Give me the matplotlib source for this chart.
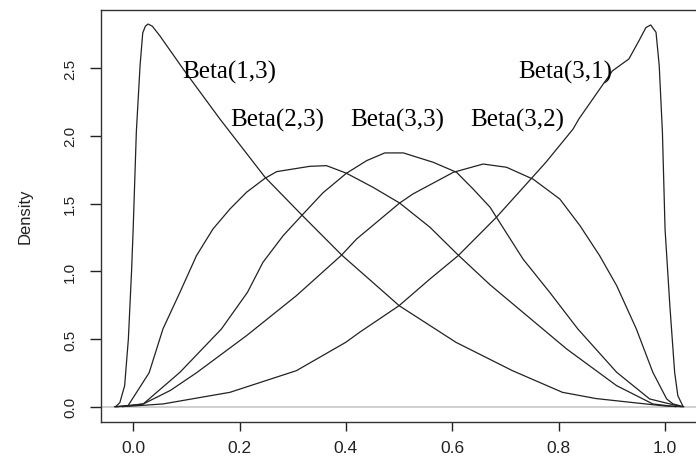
import matplotlib
matplotlib.use("Agg")
import matplotlib.pyplot as plt

# density curves of the five beta samples (x, density)
beta13_x = [-0.033, -0.025, -0.016, -0.009, -0.003, 0.0, 0.006, 0.013, 0.018, 0.023,
            0.028, 0.036, 0.05, 0.094, 0.163, 0.248, 0.317, 0.392, 0.486, 0.5,
            0.607, 0.713, 0.807, 0.87, 0.94, 0.964, 1.0, 1.033]
beta13_y = [0, 0.03, 0.155, 0.5, 1.0, 1.31, 2.03, 2.52, 2.76, 2.81,
            2.826, 2.81, 2.74, 2.494, 2.125, 1.694, 1.416, 1.12, 0.795, 0.746,
            0.475, 0.266, 0.106, 0.06, 0.03, 0.02, 0.005, 0]

beta31_x = [-0.033, 0.0, 0.056, 0.182, 0.307, 0.4, 0.426, 0.5, 0.558, 0.611,
            0.683, 0.749, 0.776, 0.827, 0.838, 0.901, 0.932, 0.951, 0.964, 0.973,
            0.983, 0.989, 0.995, 1.0, 1.009, 1.018, 1.024, 1.034]
beta31_y = [0, 0.005, 0.02, 0.106, 0.266, 0.476, 0.55, 0.746, 0.943, 1.115,
            1.399, 1.687, 1.805, 2.05, 2.125, 2.48, 2.568, 2.703, 2.8, 2.819,
            2.765, 2.52, 2.03, 1.31, 0.746, 0.254, 0.081, 0]

beta23_x = [-0.035, -0.01, 0.03, 0.056, 0.088, 0.119, 0.15, 0.182, 0.213, 0.248,
            0.27, 0.332, 0.3635, 0.401, 0.451, 0.501, 0.558, 0.611, 0.671, 0.75,
            0.815, 0.909, 0.977, 1.02]
beta23_y = [0, 0.005, 0.25, 0.574, 0.845, 1.115, 1.312, 1.46, 1.583, 1.687,
            1.736, 1.775, 1.78, 1.724, 1.62, 1.504, 1.325, 1.12, 0.9, 0.64,
            0.426, 0.155, 0.02, 0]

beta33_x = [-0.03, 0.019, 0.088, 0.166, 0.215, 0.244, 0.282, 0.3165, 0.357, 0.401,
            0.439, 0.473, 0.508, 0.564, 0.608, 0.639, 0.671, 0.733, 0.783, 0.836,
            0.909, 0.971, 1.03]
beta33_y = [0, 0.02, 0.254, 0.574, 0.845, 1.066, 1.263, 1.41, 1.58, 1.724,
            1.817, 1.874, 1.874, 1.805, 1.731, 1.608, 1.473, 1.09, 0.845, 0.574,
            0.254, 0.057, 0]

beta32_x = [-0.02, 0.019, 0.07, 0.119, 0.213, 0.307, 0.392, 0.42, 0.501, 0.526,
            0.602, 0.658, 0.702, 0.752, 0.802, 0.84, 0.877, 0.909, 0.946, 0.977,
            1.003, 1.015, 1.035]
beta32_y = [0, 0.02, 0.12, 0.25, 0.524, 0.82, 1.12, 1.238, 1.504, 1.571,
            1.731, 1.792, 1.768, 1.68, 1.534, 1.337, 1.115, 0.894, 0.574, 0.254,
            0.057, 0.02, 0]

# curve labels and where they sit
etiquetas = ["Beta(1,3)", "Beta(2,3)", "Beta(3,3)", "Beta(3,2)", "Beta(3,1)"]
etiq_x = [0.180, 0.271, 0.497, 0.722, 0.812]
etiq_y = [2.476, 2.119, 2.119, 2.119, 2.476]

xticks = [0.0, 0.2, 0.4, 0.6, 0.8, 1.0]
yticks = [0.0, 0.5, 1.0, 1.5, 2.0, 2.5]

fig = plt.figure(figsize=(6.96, 4.60), dpi=100)
ax = fig.add_axes([0.1447, 0.0811, 0.858, 0.8957])

ax.axhline(0, color="#c8c8c8", lw=1.2, zorder=1)

curvas = [(beta13_x, beta13_y), (beta23_x, beta23_y), (beta33_x, beta33_y),
          (beta32_x, beta32_y), (beta31_x, beta31_y)]
for xs, ys in curvas:
    ax.plot(xs, ys, color="#222222", lw=0.9, zorder=2)

for s, x, y in zip(etiquetas, etiq_x, etiq_y):
    ax.text(x, y, s, ha="center", va="center", fontsize=18,
            family="Liberation Serif", color="black")

ax.set_xlim(-0.061, 1.0617)
ax.set_ylim(-0.111, 2.932)

ax.set_xticks(xticks)
ax.set_xticklabels(["%.1f" % v for v in xticks], family="Liberation Sans", fontsize=12.5)
ax.set_yticks(yticks)
ax.set_yticklabels(["%.1f" % v for v in yticks], family="Liberation Sans", fontsize=11,
                   rotation=90, va="center")
ax.tick_params(axis="x", length=6.5, width=1, pad=6.5, colors="#222222")
ax.tick_params(axis="y", length=8, width=1, pad=9, colors="#222222")

ax.set_ylabel("Density", family="Liberation Sans", fontsize=12, labelpad=22, color="#222222")

for sp in ax.spines.values():
    sp.set_color("#333333")
    sp.set_linewidth(1)

fig.savefig("out.png", dpi=100)
